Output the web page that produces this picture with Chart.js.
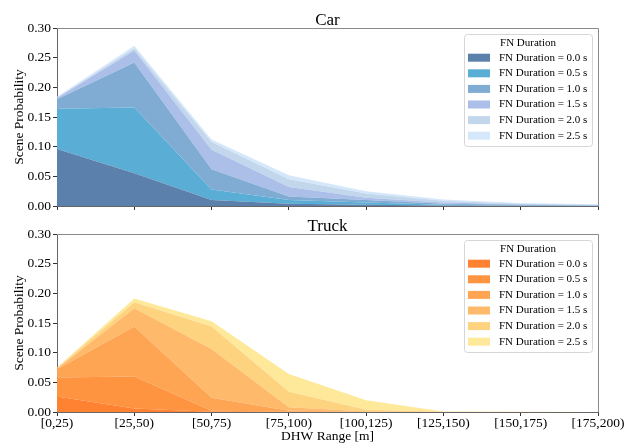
<!DOCTYPE html>
<html><head><meta charset="utf-8">
<script src="https://cdn.jsdelivr.net/npm/chart.js@4/dist/chart.umd.min.js"></script>
<style>
html,body{margin:0;padding:0;background:#fff;}
#wrap{position:relative;width:633px;height:445px;overflow:hidden;}
canvas{position:absolute;left:0;}
</style></head><body>
<div id="wrap">
<canvas id="car" width="633" height="222" style="top:0"></canvas>
<canvas id="truck" width="633" height="235" style="top:210px"></canvas>
</div>
<script>
// ---- data ----
const categories = ['[0,25)','[25,50)','[50,75)','[75,100)','[100,125)','[125,150)','[150,175)','[175,200)'];
const seriesLabels = ['FN Duration = 0.0 s','FN Duration = 0.5 s','FN Duration = 1.0 s','FN Duration = 1.5 s','FN Duration = 2.0 s','FN Duration = 2.5 s'];
const yTicks = [0, 0.05, 0.10, 0.15, 0.20, 0.25, 0.30];

// Car (stacked contributions per FN duration)
const car00 = [0.096, 0.055, 0.010, 0.004, 0.002, 0.001, 0.0005, 0.0];
const car05 = [0.068, 0.111, 0.018, 0.006, 0.004, 0.001, 0.0005, 0.0005];
const car10 = [0.016, 0.076, 0.034, 0.006, 0.004, 0.002, 0.001, 0.0005];
const car15 = [0.002, 0.020, 0.033, 0.016, 0.004, 0.002, 0.001, 0.0005];
const car20 = [0.001, 0.004, 0.013, 0.013, 0.007, 0.003, 0.001, 0.0005];
const car25 = [0.001, 0.004, 0.004, 0.007, 0.004, 0.002, 0.001, 0.001];

// Truck
const truck00 = [0.026, 0.006, 0.0005, 0, 0, 0, 0, 0];
const truck05 = [0.032, 0.054, 0.0015, 0.001, 0, 0, 0, 0];
const truck10 = [0.014, 0.084, 0.022, 0.001, 0.0005, 0, 0, 0];
const truck15 = [0.001, 0.031, 0.082, 0.006, 0.0005, 0, 0, 0];
const truck20 = [0.001, 0.010, 0.038, 0.026, 0.003, 0.0003, 0, 0];
const truck25 = [0.001, 0.0065, 0.009, 0.030, 0.016, 0.0007, 0.0005, 0];

// ---- styles ----
const carColors = ['#5b80ab','#5aadd5','#80acd4','#abbfe9','#c2d6ec','#d5e8fb'];
const truckColors = ['#fe8231','#fe9340','#fea553','#feb96a','#fed37f','#fee89a'];
const FONT = '"Liberation Serif", "Times New Roman", serif';

function buildDatasets(series, colors){
  return series.map((d,i)=>({
    label: seriesLabels[i],
    data: d,
    backgroundColor: colors[i],
    borderColor: colors[i],
    borderWidth: 0,
    pointRadius: 0,
    pointHoverRadius: 0,
    tension: 0,
    fill: i===0 ? 'origin' : '-1'
  }));
}

function decor(title){
  return {
    id:'decor',
    afterDraw(chart){
      const ctx = chart.ctx, a = chart.chartArea;
      ctx.save();
      // frame top/right
      ctx.strokeStyle = '#8a8a8a'; ctx.lineWidth = 1;
      ctx.beginPath();
      ctx.moveTo(a.left, a.top+0.5); ctx.lineTo(a.right+0.5, a.top+0.5);
      ctx.lineTo(a.right+0.5, a.bottom);
      ctx.stroke();
      // title
      ctx.fillStyle = '#000';
      ctx.font = '17px ' + FONT;
      ctx.textAlign = 'center'; ctx.textBaseline = 'alphabetic';
      ctx.fillText(title, (a.left+a.right)/2, a.top - 3.5);
      // legend
      const w = 128, h = 112;
      const x0 = a.right - 6 - w, y0 = a.top + 6;
      ctx.fillStyle = 'rgba(255,255,255,0.85)';
      ctx.strokeStyle = '#d6d6d6';
      ctx.beginPath();
      ctx.roundRect(x0+0.5, y0+0.5, w, h, 3);
      ctx.fill(); ctx.stroke();
      ctx.fillStyle = '#000';
      ctx.font = '11px ' + FONT;
      ctx.textBaseline = 'middle';
      ctx.fillText('FN Duration', x0 + w/2, y0 + 9);
      ctx.textAlign = 'left';
      chart.data.datasets.forEach((ds,i)=>{
        const cy = y0 + 23.7 + i*15.6;
        ctx.fillStyle = ds.backgroundColor;
        ctx.fillRect(x0+4, cy-4, 22, 8);
        ctx.fillStyle = '#000';
        ctx.fillText(ds.label, x0+35, cy);
      });
      ctx.restore();
    }
  };
}

function makeChart(id, series, colors, title, showX, pad, xHeight){
  return new Chart(document.getElementById(id), {
    type: 'line',
    data: { labels: categories, datasets: buildDatasets(series, colors) },
    options: {
      responsive: false,
      animation: false,
      events: [],
      layout: { padding: { top: pad.top, right: 35, left: 0, bottom: 0 } },
      plugins: { legend: { display: false }, tooltip: { enabled: false }, title: { display: false } },
      scales: {
        x: {
          type: 'category',
          offset: false,
          grid: { display: true, drawOnChartArea: false, drawTicks: true, tickLength: 4, color: '#333' },
          border: { display: true, color: '#666', width: 1 },
          ticks: { display: showX, color: '#000', font: { family: FONT, size: 13.5 }, padding: -1, maxRotation: 0, autoSkip: false },
          title: { display: showX, text: 'DHW Range [m]', color: '#000', font: { family: FONT, size: 13.5 }, padding: { top: 0, bottom: 0 } },
          afterFit(s){ s.height = xHeight; }
        },
        y: {
          stacked: true,
          min: 0, max: 0.3,
          afterBuildTicks(s){ s.ticks = yTicks.map(v=>({value:v})); },
          grid: { display: true, drawOnChartArea: false, drawTicks: true, tickLength: 4, color: '#333' },
          border: { display: true, color: '#666', width: 1 },
          ticks: { color: '#000', font: { family: FONT, size: 13.5 }, padding: 2, callback: v => Number(v).toFixed(2) },
          title: { display: true, text: 'Scene Probability', color: '#000', font: { family: FONT, size: 13.5 }, padding: { top: 11, bottom: 0 } },
          afterFit(s){ s.width = 57; }
        }
      }
    },
    plugins: [decor(title)]
  });
}

makeChart('car', [car00,car05,car10,car15,car20,car25], carColors, 'Car', false, {top:28}, 16);
makeChart('truck', [truck00,truck05,truck10,truck15,truck20,truck25], truckColors, 'Truck', true, {top:24}, 33);
</script>
</body></html>
